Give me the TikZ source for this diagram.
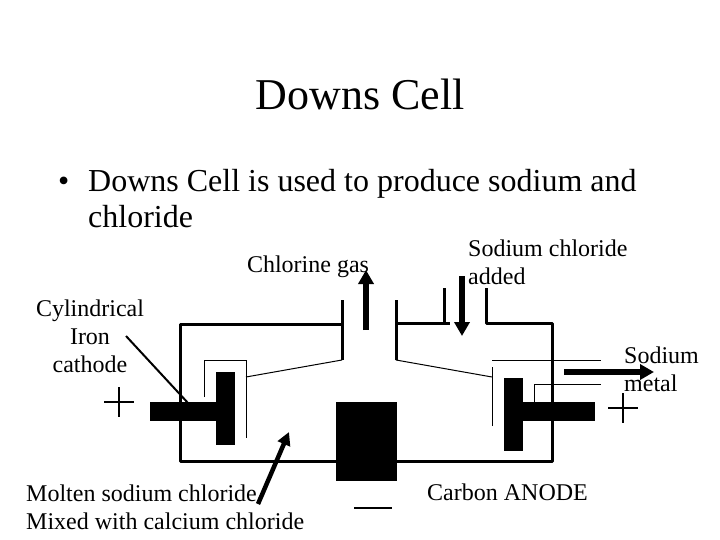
\documentclass[tikz,border=0pt]{standalone}
\usepackage{fontspec}
\setmainfont{Liberation Serif}
\usetikzlibrary{arrows.meta}

\tikzset{
	label24/.style={font=\fontsize{24}{28}\selectfont, inner sep=0pt},
	wall/.style={line width=3pt, line join=round},
	thinwall/.style={line width=1pt},
	block/.style={fill=black, draw=none},
	fatarrow/.style={line width=6pt, -{Triangle[length=14pt,width=15pt]}},
	signline/.style={line width=1.2pt}
}

\begin{document}
\begin{tikzpicture}[x=1pt,y=-1pt]
\useasboundingbox (0,0) rectangle (720,540);

\path (360,110) node[anchor=base, inner sep=0pt, font=\fontsize{44}{50}\selectfont] (title) {Downs Cell}
		(58,192) node[anchor=base west, inner sep=0pt, font=\fontsize{32}{36}\selectfont] (bullet) {•}
		(88,192) node[anchor=base west, inner sep=0pt, font=\fontsize{32}{36}\selectfont] (line1) {Downs Cell is used to produce sodium and}
		(88,228) node[anchor=base west, inner sep=0pt, font=\fontsize{32}{36}\selectfont] (line2) {chloride}
		(308,267) node[label24] (chlorine) {Chlorine gas}
		(468,262) node[label24, anchor=west, align=left] (added) {Sodium chloride\\added}
		(90,336) node[label24, align=center] (cathode) {Cylindrical\\Iron\\cathode}
		(624,369.5) node[label24, anchor=west, align=left] (metal) {Sodium\\metal}
		(26,507.5) node[label24, anchor=west, align=left] (molten) {Molten sodium chloride\\Mixed with calcium chloride}
		(427,500) node[label24, anchor=base west] (anode) {Carbon ANODE}
		;

\path (342,300) coordinate (stubA)
		(342,360) coordinate (stubB)
		(396,300) coordinate (stubC)
		(396,360) coordinate (stubD)
		(444,288) coordinate (feedA)
		(486,288) coordinate (feedB)
		(126,336) coordinate (pointerA)
		(188,403) coordinate (pointerB)
		(258,504) coordinate (moltenA)
		(289,432) coordinate (moltenB)
		(366,330) coordinate (gasA)
		(366,270) coordinate (gasB)
		(462,276) coordinate (saltA)
		(462,336) coordinate (saltB)
		(564,372) coordinate (metalA)
		(654,372) coordinate (metalB)
		;

\draw[wall] (stubA) -- (stubB);
\draw[wall] (stubC) -- (stubD);
\draw[wall] (342,324) -- (180,324) -- (180,461) -- (337,461);
\draw[wall] (396,323) -- (450,323);
\draw[wall] (feedA) -- (444,323);
\draw[wall] (feedB) -- (486,323) -- (552,323) -- (552,461) -- (397,461);

\fill[block] (336,402) rectangle (397,481);
\fill[block] (150,402) rectangle (216,421);
\fill[block] (216,372) rectangle (235,445);
\fill[block] (504,378) rectangle (523,451);
\fill[block] (523,402) rectangle (595,421);

\draw[thinwall] (204,397) -- (204,360) -- (246,360) -- (246,438);
\draw[thinwall] (246,377) -- (stubB);
\draw[thinwall] (stubD) -- (492,377);
\draw[thinwall] (492,426) -- (492,367);
\draw[thinwall] (492,360) -- (601,360);
\draw[thinwall] (534,402) -- (534,384) -- (601,384);

\draw[line width=2pt] (pointerA) -- (pointerB);
\draw[line width=4.5pt, -{Triangle[length=13pt,width=13pt]}] (moltenA) -- (moltenB);
\draw[fatarrow] (gasA) -- (gasB);
\draw[fatarrow] (saltA) -- (saltB);
\draw[fatarrow] (metalA) -- (metalB);

\draw[signline] (104,402) -- (134,402);
\draw[signline] (119,387) -- (119,417);
\draw[signline] (608,408) -- (638,408);
\draw[signline] (623,393) -- (623,423);
\draw[line width=2.5pt] (354,508) -- (392,508);
\end{tikzpicture}
\end{document}
